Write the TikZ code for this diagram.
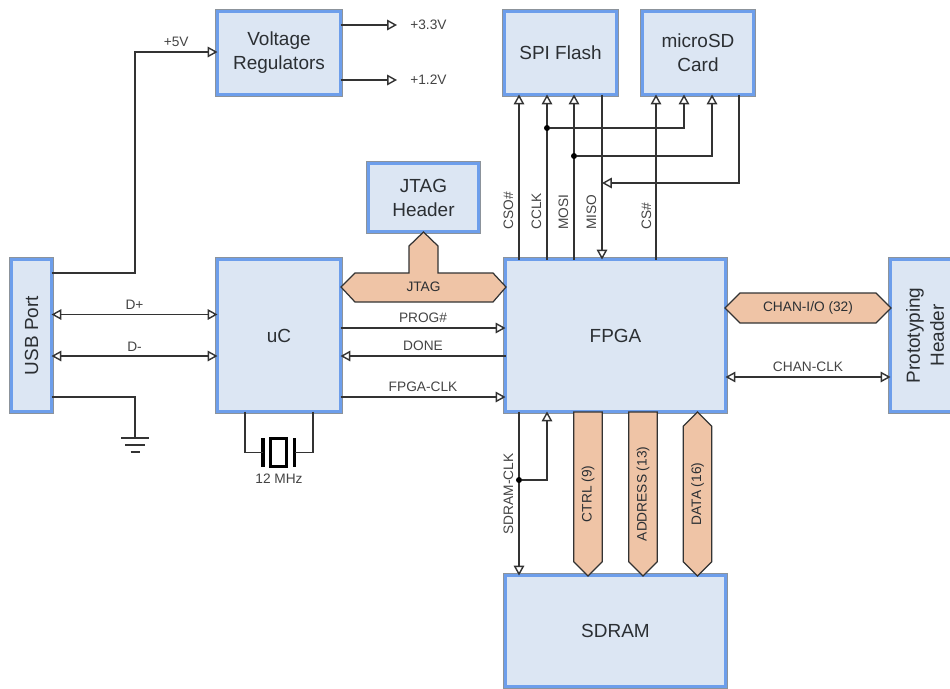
\documentclass[tikz,border=0pt]{standalone}
\usepackage{fontspec}
\setmainfont{Liberation Sans}
\usepackage{xcolor}
\usetikzlibrary{arrows.meta,positioning,shapes.symbols}
\definecolor{cFill}{HTML}{DCE6F3}
\definecolor{cBlue}{HTML}{6D9EEB}
\definecolor{cEdge}{HTML}{8C939B}
\definecolor{cBus}{HTML}{EFC4A6}
\definecolor{cInk}{HTML}{2B2F33}
\definecolor{cGray}{HTML}{444444}
\definecolor{cWire}{HTML}{333333}
\tikzset{
  blk/.style={draw=cBlue,fill=cFill,line width=1.7pt,preaction={draw=cEdge,line width=2.3pt},align=center,inner sep=0pt,outer sep=0pt,
    font=\fontsize{10.8}{13.7}\selectfont,text=cInk},
  arr/.style={-{Triangle[length=5.6pt,width=6pt,line width=0.8pt,fill=white]},line width=0.7pt,color=cWire},
  darr/.style={{Triangle[length=5.6pt,width=6pt,line width=0.8pt,fill=white]}-{Triangle[length=5.6pt,width=6pt,line width=0.8pt,fill=white]},line width=0.7pt,color=cWire},
  wire/.style={line width=0.7pt,color=cWire},
  lbl/.style={font=\fontsize{7.8}{9}\selectfont,text=cGray,inner sep=2.5pt},
  rlbl/.style={lbl,rotate=90,anchor=west,inner sep=0pt},
  bus/.style={signal,draw=cWire,fill=cBus,line width=0.7pt,inner sep=0pt,outer sep=0pt,minimum height=0.57cm,
    font=\fontsize{7.8}{9}\selectfont,text=cInk},
  jdot/.style={circle,fill=black,inner sep=0pt,minimum size=0.12cm},
}
\begin{document}
\begin{tikzpicture}[x=1cm,y=1cm]
    \useasboundingbox (0,0) rectangle (19,-13.76);
    \clip (0,0) rectangle (19,-13.76);
    \node[blk,rotate=90,minimum width=3.04cm,minimum height=0.80cm] (usb) at (0.63,-6.71) {USB Port};
    \node[blk,minimum width=2.46cm,minimum height=3.04cm] (uc) at (5.58,-6.71) {uC};
    \node[blk,minimum width=2.46cm,minimum height=1.66cm] (vreg) at (5.58,-1.06) {Voltage\\Regulators};
    \node[blk,minimum width=2.20cm,minimum height=1.36cm] (jtag) at (8.47,-3.95) {JTAG\\Header};
    \node[blk,minimum width=2.24cm,minimum height=1.66cm] (spi) at (11.21,-1.06) {SPI Flash};
    \node[blk,minimum width=2.22cm,minimum height=1.66cm] (sd) at (13.96,-1.06) {microSD\\Card};
    \node[blk,minimum width=4.40cm,minimum height=3.04cm] (fpga) at (12.31,-6.71) {FPGA};
    \node[blk,minimum width=4.40cm,minimum height=2.22cm] (sdram) at (12.31,-12.62) {SDRAM};
    \node[blk,rotate=90,minimum width=3.04cm,minimum height=1.38cm] (proto) at (18.50,-6.71) {Prototyping\\Header};
    % power
    \draw[arr] (usb.south |- 0,-5.46) -- (2.70,-5.46) -- (2.70,-1.04) -- node[lbl,above]{+5V} (vreg.west |- 0,-1.04);
    \coordinate (v33end) at (7.94,-0.50);
    \coordinate (v12end) at (7.94,-1.60);
    \draw[arr] (vreg.east |- v33end) -- (v33end);
    \draw[arr] (vreg.east |- v12end) -- (v12end);
    \node[lbl,anchor=west,inner sep=0pt] (v33) at (8.20,-0.50) {+3.3V};
    \node[lbl,anchor=west,inner sep=0pt] (v12) at (8.20,-1.60) {+1.2V};
    % usb side
    \draw[darr] (usb.south |- 0,-6.29) -- node[lbl,above]{D+} (uc.west |- 0,-6.29);
    \draw[darr] (usb.south |- 0,-7.12) -- node[lbl,above]{D-} (uc.west |- 0,-7.12);
    \coordinate (gnd) at (2.70,-8.76);
    \draw[wire] (usb.south |- 0,-7.94) -| (gnd);
    \draw[line width=1.4pt,color=cWire] (gnd) ++(-0.28,0) -- ++(0.56,0);
    \draw[line width=1.4pt,color=cWire] (gnd) ++(-0.20,-0.14) -- ++(0.40,0);
    \draw[line width=1.4pt,color=cWire] (gnd) ++(-0.09,-0.28) -- ++(0.18,0);
    % crystal
    \node[draw=black,line width=1.4pt,minimum width=0.32cm,minimum height=0.56cm,inner sep=0pt] (xtal) at (5.57,-9.05) {};
    \coordinate (xl) at (5.26,-9.05);
    \coordinate (xr) at (5.89,-9.05);
    \draw[line width=1.8pt] (xl) ++(0,0.29) -- ++(0,-0.58);
    \draw[line width=1.8pt] (xr) ++(0,0.29) -- ++(0,-0.58);
    \draw[wire] (4.90,0 |- uc.south) |- (xl);
    \draw[wire] (6.26,0 |- uc.south) |- (xr);
    \node[lbl,inner sep=0pt] (xlbl) at (5.58,-9.58) {12 MHz};
    % uC to FPGA
    \draw[arr] (uc.east |- 0,-6.56) -- node[lbl,above]{PROG\#} (fpga.west |- 0,-6.56);
    \draw[arr] (fpga.west |- 0,-7.12) -- node[lbl,above]{DONE} (uc.east |- 0,-7.12);
    \draw[arr] (uc.east |- 0,-7.94) -- node[lbl,above]{FPGA-CLK} (fpga.west |- 0,-7.94);
    \draw[wire,fill=cBus,line width=0.7pt] (6.82,-5.74) -- (7.10,-5.46) -- (8.18,-5.46) -- (8.18,-4.92) -- (8.47,-4.64) -- (8.76,-4.92)
      -- (8.76,-5.46) -- (9.86,-5.46) -- (10.12,-5.74) -- (9.86,-6.04) -- (7.10,-6.04) -- cycle;
    \node[font=\fontsize{7.8}{9}\selectfont,text=cInk,inner sep=0pt] (jtagbus) at (8.47,-5.74) {JTAG};
    % SPI lines
    \draw[arr] (10.38,0 |- fpga.north) -- (10.38,0 |- spi.south);
    \draw[arr] (10.94,0 |- fpga.north) -- (10.94,0 |- spi.south);
    \draw[arr] (11.48,0 |- fpga.north) -- (11.48,0 |- spi.south);
    \draw[arr] (12.04,0 |- spi.south) -- (12.04,0 |- fpga.north);
    \draw[arr] (13.12,0 |- fpga.north) -- (13.12,0 |- sd.south);
    \node[jdot] (clkdot) at (10.94,-2.56) {};
    \node[jdot] (mosidot) at (11.48,-3.12) {};
    \draw[arr] (clkdot) -| (13.68,0 |- sd.south);
    \draw[arr] (mosidot) -| (14.24,0 |- sd.south);
    \draw[arr] (14.78,0 |- sd.south) |- (12.04,-3.66);
    \node[rlbl] (lcso) at (10.17,-4.60) {CSO\#};
    \node[rlbl] (lclk) at (10.73,-4.60) {CCLK};
    \node[rlbl] (lmosi) at (11.27,-4.60) {MOSI};
    \node[rlbl] (lmiso) at (11.83,-4.60) {MISO};
    \node[rlbl] (lcs) at (12.93,-4.60) {CS\#};
    % SDRAM
    \draw[arr] (10.38,0 |- fpga.south) -- (10.38,0 |- sdram.north);
    \node[jdot] (sclkdot) at (10.38,-9.60) {};
    \draw[arr] (sclkdot) -| (10.94,0 |- fpga.south);
    \node[rlbl,anchor=center] (lsclk) at (10.17,-9.88) {SDRAM-CLK};
    \node[bus,rotate=90,anchor=west,signal to=west,minimum width=3.28cm] (ctrl) at (11.76,-11.52) {CTRL (9)\hspace*{0.28cm}};
    \node[bus,rotate=90,anchor=west,signal to=west,minimum width=3.28cm] (addr) at (12.86,-11.52) {ADDRESS (13)\hspace*{0.28cm}};
    \node[bus,rotate=90,anchor=west,signal to=east and west,minimum width=3.28cm] (data) at (13.95,-11.52) {DATA (16)};
    % channel side
    \node[bus,anchor=west,signal to=east and west,minimum width=3.32cm,minimum height=0.60cm] (chan) at (14.50,-6.16) {CHAN-I/O (32)};
    \draw[darr] (fpga.east |- 0,-7.54) -- node[lbl,above]{CHAN-CLK} (proto.north |- 0,-7.54);
\end{tikzpicture}
\end{document}
